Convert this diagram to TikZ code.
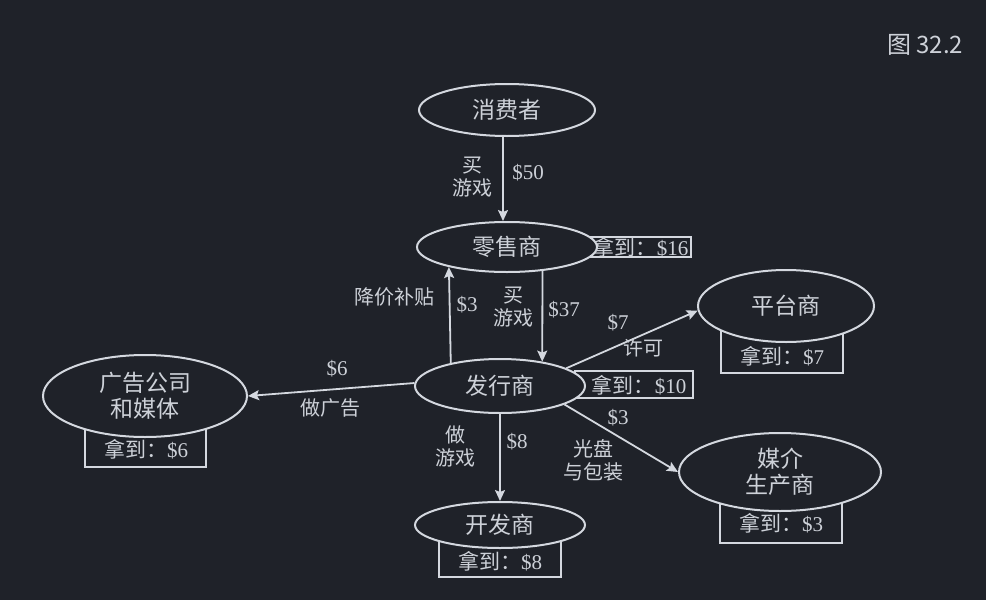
\documentclass[tikz,border=0pt]{standalone}
\usepackage{fontspec}
\setmainfont{Liberation Serif}
\newfontfamily\cjk{Noto Sans CJK SC}
\usetikzlibrary{shapes.geometric,arrows.meta}
\definecolor{bg}{HTML}{1F2229}
\definecolor{fg}{HTML}{D4D8DF}
\definecolor{tx}{HTML}{CDD1D8}
\begin{document}
\begin{tikzpicture}[x=1pt,y=-1pt,
  ell/.style={ellipse, draw=fg, line width=2pt, fill=bg, inner sep=0pt, text=tx,
    font=\cjk\fontsize{23}{26}\selectfont, align=center},
  gotbox/.style={draw=fg, line width=1.8pt, rectangle, inner sep=0pt},
  gottxt/.style={text=tx, font=\fontsize{21}{23}\selectfont, inner sep=0pt},
  arr/.style={draw=fg, line width=1.8pt, -{Stealth[length=11pt,width=10pt,inset=2pt]}},
  lab/.style={text=tx, font=\cjk\fontsize{20}{23}\selectfont, align=center, inner sep=0pt},
  num/.style={text=tx, font=\fontsize{21}{23}\selectfont, inner sep=0pt}]

\fill[bg] (0,0) rectangle (986,600);
\useasboundingbox (0,0) rectangle (986,600);

% figure number
\node[text=tx, font=\cjk\fontsize{24}{26}\selectfont, inner sep=0pt] (fig) at (925,45) {图 32.2};

% boxes (drawn first, partly hidden by ellipses)
\node[gotbox, minimum width=116pt, minimum height=20pt] (rbox) at (633,247) {};
\node[gotbox, minimum width=118pt, minimum height=27pt] (pbox) at (634,384.5) {};
\node[gotbox, minimum width=122pt, minimum height=53pt] (plbox) at (782,346.5) {};
\node[gotbox, minimum width=122pt, minimum height=48pt] (mbox) at (781,519) {};
\node[gotbox, minimum width=122pt, minimum height=42pt] (dbox) at (500,556) {};
\node[gotbox, minimum width=121pt, minimum height=47pt] (abox) at (145.5,443.5) {};

% ellipses
\node[ell, minimum width=176pt, minimum height=52pt] (C) at (507,110) {消费者};
\node[ell, minimum width=180pt, minimum height=50pt] (R) at (507,247) {零售商};
\node[ell, minimum width=170pt, minimum height=54pt] (P) at (500,386) {发行商};
\node[ell, minimum width=176pt, minimum height=72pt] (PL) at (786,306) {平台商};
\node[ell, minimum width=202pt, minimum height=78pt] (M) at (780,472) {媒介\\生产商};
\node[ell, minimum width=170pt, minimum height=46pt] (D) at (500,525) {开发商};
\node[ell, minimum width=204pt, minimum height=82pt] (A) at (145,396) {广告公司\\和媒体};

% box texts
\node[gottxt] (rtxt) at (641,247) {\cjk 拿到：\rmfamily\$16};
\node[gottxt] (ptxt) at (639,385) {\cjk 拿到：\rmfamily\$10};
\node[gottxt] (pltxt) at (782,356) {\cjk 拿到：\rmfamily\$7};
\node[gottxt] (mtxt) at (781,523) {\cjk 拿到：\rmfamily\$3};
\node[gottxt] (dtxt) at (500,561) {\cjk 拿到：\rmfamily\$8};
\node[gottxt] (atxt) at (146,449) {\cjk 拿到：\rmfamily\$6};

% connectors
\draw[arr] ([xshift=-4pt]C.south) -- ([xshift=-4pt]R.north)
  node[lab] (l1) at (472,177) {买\\游戏}
  node[num] (n1) at (528,173) {\$50};
\draw[arr] (P.155.1) -- (R.199.8)
  node[lab] (l2) at (394,297) {降价补贴}
  node[num] (n2) at (467,305) {\$3};
\draw[arr] (R.-34.2) -- (P.30)
  node[lab] (l3) at (513,307) {买\\游戏}
  node[num] (n3) at (564,310) {\$37};
\draw[arr] (P.15) -- (PL.183)
  node[num] (n4) at (618,323) {\$7}
  node[lab] (l4) at (643,348) {许可};
\draw[arr] (P.-16) -- (M.180)
  node[num] (n5) at (618,418) {\$3}
  node[lab] (l5) at (593,460) {光盘\\与包装};
\draw[arr] (P.south) -- (D.north)
  node[lab] (l6) at (455,446) {做\\游戏}
  node[num] (n6) at (517,442) {\$8};
\draw[arr] (P.178) -- (A.east)
  node[num] (n7) at (337,369) {\$6}
  node[lab] (l7) at (330,408) {做广告};
\end{tikzpicture}
\end{document}
